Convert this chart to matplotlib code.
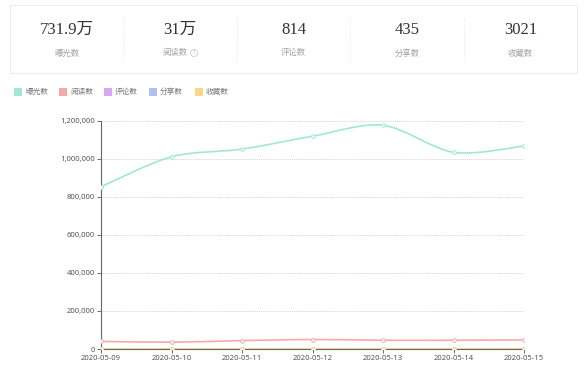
import numpy as np
import matplotlib
matplotlib.use("Agg")
import matplotlib.pyplot as plt
from matplotlib.path import Path
from matplotlib.patches import PathPatch, Rectangle
from matplotlib.ticker import FuncFormatter

plt.rcParams["font.family"] = ["Noto Sans", "Noto Sans CJK SC", "DejaVu Sans"]

# Daten
dates = ["2020-05-09", "2020-05-10", "2020-05-11", "2020-05-12",
         "2020-05-13", "2020-05-14", "2020-05-15"]
exposure = [854000, 1012000, 1052000, 1120000, 1178000, 1035000, 1068000]
reads = [40000, 36000, 44000, 50000, 46000, 46000, 48000]
comments = [95, 110, 120, 130, 125, 115, 119]
shares = [50, 60, 65, 70, 62, 60, 68]
favorites = [380, 420, 450, 470, 440, 420, 441]

stat_values = ["731.9万", "31万", "814", "435", "3021"]
stat_labels = ["曝光数", "阅读数", "评论数", "分享数", "收藏数"]
series_names = ["曝光数", "阅读数", "评论数", "分享数", "收藏数"]
colors = ["#9fe8d8", "#f5aaa8", "#d8a6ee", "#b2bff2", "#f6d888"]

W, H = 587, 373
fig = plt.figure(figsize=(W / 100, H / 100), dpi=100)


def fx(px):
    return px / W


def fy(py):
    return 1 - py / H


# Kennzahlen-Kachel oben
fig.patches.append(Rectangle((fx(10), fy(73)), fx(567), 68 / H,
                             transform=fig.transFigure, fill=False,
                             edgecolor="#ececec", linewidth=0.8))
col_w = 567 / 5
for i in range(5):
    cx = 10 + col_w * (i + 0.5)
    fig.text(fx(cx), fy(30), stat_values[i], ha="center", va="center",
             fontsize=12, color="#333333",
             family=["Liberation Serif", "Noto Sans CJK SC"])
    lx = cx - 5 if i == 1 else cx
    fig.text(fx(lx), fy(53), stat_labels[i], ha="center", va="center",
             fontsize=6, color="#a0a0a0", family=["Noto Sans CJK SC"])
    if i == 1:
        fig.text(fx(cx + 14), fy(53), "?", ha="center", va="center",
                 fontsize=3.8, color="#b0b0b0",
                 bbox=dict(boxstyle="circle,pad=0.2", fc="white",
                           ec="#c4c4c4", lw=0.5))
    if i > 0:
        xl = fx(10 + col_w * i)
        fig.add_artist(plt.Line2D([xl, xl], [fy(18), fy(62)],
                                  transform=fig.transFigure,
                                  color="#e4e4e4", lw=0.7, ls=":"))

# Legende
leg_x = [14, 59, 104, 149, 195]
for i, name in enumerate(series_names):
    fig.patches.append(Rectangle((fx(leg_x[i]), fy(96)), 8 / W, 8 / H,
                                 transform=fig.transFigure,
                                 facecolor=colors[i], edgecolor="none"))
    fig.text(fx(leg_x[i] + 11), fy(92), name, ha="left", va="center",
             fontsize=5.5, color="#777777", family=["Noto Sans CJK SC"])

ax = fig.add_axes([fx(101), 1 - 349 / H, fx(524 - 101), (349 - 121) / H])
x = np.arange(len(dates))


def smooth_path(xs, ys, k=0.3):
    # kubische Bezier-Segmente wie bei ECharts smooth
    verts = [(xs[0], ys[0])]
    codes = [Path.MOVETO]
    n = len(xs)
    for i in range(n - 1):
        p0 = (xs[max(i - 1, 0)], ys[max(i - 1, 0)])
        p1 = (xs[i], ys[i])
        p2 = (xs[i + 1], ys[i + 1])
        p3 = (xs[min(i + 2, n - 1)], ys[min(i + 2, n - 1)])
        c1 = (p1[0] + k * (p2[0] - p0[0]) / 2, p1[1] + k * (p2[1] - p0[1]) / 2)
        c2 = (p2[0] - k * (p3[0] - p1[0]) / 2, p2[1] - k * (p3[1] - p1[1]) / 2)
        verts += [c1, c2, p2]
        codes += [Path.CURVE4] * 3
    return Path(verts, codes)


all_series = [exposure, reads, comments, shares, favorites]
for i, ys in enumerate(all_series):
    ax.add_patch(PathPatch(smooth_path(x, ys), fill=False,
                           edgecolor=colors[i], lw=1.2, zorder=3 + i))
    ax.plot(x, ys, ls="none", marker="o", ms=2.6, mfc="white",
            mec=colors[i], mew=0.7, zorder=4 + i)

ax.set_xlim(0, 6)
ax.set_ylim(0, 1200000)
ax.set_yticks(np.arange(0, 1200001, 200000))
ax.yaxis.set_major_formatter(FuncFormatter(lambda v, p: f"{int(v):,}"))
ax.set_xticks(x)
ax.set_xticklabels(dates)
ax.grid(axis="y", color="#d4d4d4", lw=0.7, ls=(0, (1, 1)))
ax.set_axisbelow(True)
for s in ["top", "right"]:
    ax.spines[s].set_visible(False)
ax.spines["left"].set_color("#666666")
ax.spines["bottom"].set_color("#666666")
ax.tick_params(axis="both", labelsize=5.5, colors="#555555", length=3,
               width=0.6, pad=1.5)

fig.savefig("out.png", dpi=100)
